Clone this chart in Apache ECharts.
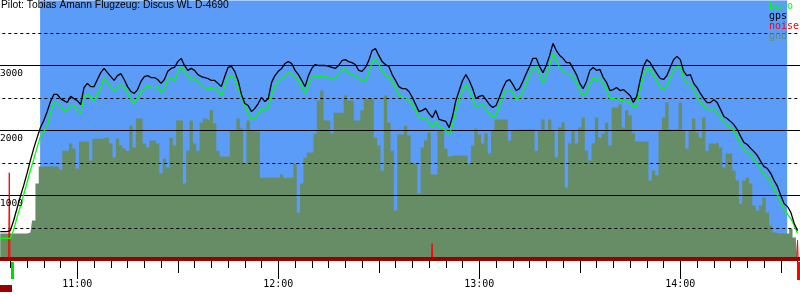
<!DOCTYPE html>
<html><head><meta charset="utf-8">
<script src="https://cdn.jsdelivr.net/npm/echarts@6/dist/echarts.min.js"></script>
<style>html,body{margin:0;padding:0;background:#fff}#c{width:800px;height:300px}</style>
</head><body><div id="c"></div>
<script>
// ---- data (time in minutes after midnight, altitude in metres) ----
const titleText = 'Pilot: Tobias Amann Flugzeug: Discus WL D-4690';
const legendNames = ['baro', 'gps', 'noise', 'gnd'];
const yLines = [500, 1000, 1500, 2000, 2500, 3000, 3500];
const flightWindow = [648.9, 871.9];
const takeoffMin = 640.2;
const landingMin = 874.9;

const minutes = [
637,638,639,640,641,642,643,644,645,646,647,648,649,650,651,652,653,654,655,656,
657,658,659,660,661,662,663,664,665,666,667,668,669,670,671,672,673,674,675,676,
677,678,679,680,681,682,683,684,685,686,687,688,689,690,691,692,693,694,695,696,
697,698,699,700,701,702,703,704,705,706,707,708,709,710,711,712,713,714,715,716,
717,718,719,720,721,722,723,724,725,726,727,728,729,730,731,732,733,734,735,736,
737,738,739,740,741,742,743,744,745,746,747,748,749,750,751,752,753,754,755,756,
757,758,759,760,761,762,763,764,765,766,767,768,769,770,771,772,773,774,775,776,
777,778,779,780,781,782,783,784,785,786,787,788,789,790,791,792,793,794,795,796,
797,798,799,800,801,802,803,804,805,806,807,808,809,810,811,812,813,814,815,816,
817,818,819,820,821,822,823,824,825,826,827,828,829,830,831,832,833,834,835,836,
837,838,839,840,841,842,843,844,845,846,847,848,849,850,851,852,853,854,855,856,
857,858,859,860,861,862,863,864,865,866,867,868,869,870,871,872,873,874,875];

const gpsAlt = [
445,445,445,460,615,800,985,1155,1340,1540,1725,1890,2045,2155,2290,2445,2555,2555,2490,2460,
2430,2525,2490,2460,2400,2660,2725,2675,2675,2785,2890,2955,2890,2830,2770,2845,2875,2785,2675,2600,
2570,2630,2755,2830,2845,2815,2815,2785,2725,2785,2910,2955,2970,3060,3110,3000,2925,2955,2925,2860,
2830,2815,2800,2770,2770,2725,2675,2830,2970,2985,2910,2770,2555,2415,2385,2290,2340,2415,2510,2445,
2490,2740,2845,2910,2955,3030,3060,3030,2925,2860,2770,2675,2845,2955,3015,3000,3000,3000,2985,2970,
2955,3000,3075,3090,3060,3045,3015,2925,2910,2970,3075,3230,3260,3155,3060,3015,2985,2860,2770,2675,
2645,2645,2600,2510,2400,2290,2310,2340,2260,2200,2310,2170,2155,2140,2045,2215,2460,2615,2770,2860,
2770,2645,2490,2525,2540,2475,2400,2355,2385,2510,2645,2755,2785,2710,2615,2645,2755,2875,2985,3110,
3110,2985,2890,3000,3155,3340,3230,3155,3110,3045,3045,2955,2860,2725,2645,2755,2925,2970,2925,2940,
2815,2740,2615,2630,2660,2615,2630,2585,2540,2430,2525,2770,2985,3090,3045,2955,2875,2800,2785,2845,
2970,3090,3140,3090,2910,2845,2860,2725,2660,2570,2490,2430,2430,2475,2430,2325,2215,2185,2140,2090,
2015,1910,1815,1785,1725,1675,1615,1525,1445,1415,1340,1230,1140,1000,875,830,740,570,460];

const baroAlt = [
340,340,340,340,475,660,830,1015,1200,1385,1555,1740,1910,1985,2075,2260,2430,2415,2385,2310,
2310,2385,2385,2310,2260,2510,2555,2525,2460,2555,2660,2800,2740,2660,2615,2645,2710,2660,2585,2475,
2415,2510,2585,2645,2690,2660,2660,2675,2585,2630,2785,2815,2755,2890,2985,2910,2845,2770,2800,2755,
2710,2660,2645,2645,2660,2615,2540,2675,2815,2845,2785,2660,2525,2385,2260,2170,2185,2260,2340,2310,
2355,2555,2690,2755,2800,2845,2890,2875,2830,2770,2675,2570,2710,2815,2845,2830,2830,2845,2815,2800,
2815,2875,2925,2955,2890,2860,2845,2815,2755,2770,2890,3045,3110,3015,2925,2845,2830,2755,2660,2540,
2510,2510,2445,2400,2310,2200,2185,2200,2110,2045,2140,2060,2030,2000,1940,2075,2310,2475,2615,2710,
2615,2490,2355,2385,2400,2325,2260,2215,2230,2385,2525,2630,2630,2585,2475,2510,2600,2725,2845,2955,
2985,2860,2740,2845,3000,3185,3075,2970,2925,2875,2875,2815,2740,2615,2540,2570,2725,2815,2770,2800,
2725,2630,2490,2490,2510,2460,2460,2445,2430,2355,2370,2645,2830,2955,2940,2845,2770,2660,2630,2690,
2815,2925,2985,2970,2800,2725,2725,2615,2540,2430,2385,2340,2290,2340,2275,2200,2125,2075,2045,2000,
1890,1785,1710,1660,1630,1555,1490,1400,1325,1275,1215,1090,1015,890,785,710,645,540,415];

const gndAlt = [
415,415,415,415,415,415,415,415,415,430,615,1185,1445,1445,1445,1445,1445,1445,1400,1690,
1690,1800,1725,1415,1830,1830,1830,1540,1875,1875,1875,1890,1890,1800,1585,1875,1770,1725,1690,2075,
1740,2185,2185,1800,1740,1845,1845,1800,1340,1570,1430,1890,1770,2155,2155,1185,1690,2155,1800,1690,
2125,2185,2155,2310,2110,1690,1600,1600,1600,2000,2000,2185,2030,1490,2155,2000,1985,1985,1275,1275,
1275,1275,1275,1275,1325,1275,1275,1275,1490,740,1185,1585,1660,1660,1955,2460,2615,2155,2155,1955,
2275,2275,2275,2540,2460,2460,2155,2155,2310,2490,2490,2490,1890,1770,1385,2540,2125,1690,770,1940,
1940,2075,1925,1490,1510,1030,1740,1845,1970,1325,1325,2000,2000,1725,1600,1615,1615,1615,1615,1615,
1490,1770,2030,1940,1800,1955,1645,2000,2170,2170,2170,2170,1845,2000,2015,2015,2015,2015,2015,2015,
1690,2000,2170,2000,2170,2000,1585,2045,2125,1125,1800,2000,1800,2045,2200,1690,1540,1800,2200,1890,
1955,2125,1770,2355,2355,2400,2045,2310,2230,1955,1830,1830,1830,1830,1230,1385,1310,2000,2200,2430,
2015,2015,2015,2430,2000,1725,2000,2185,1970,1890,2200,1690,1800,1800,1815,1740,1430,1645,1645,1385,
1230,875,1230,1275,1185,845,770,845,970,740,540,430,415,415,415,415,490,355,308];

const noiseMin = [636.9, 639.5, 639.7, 639.9, 765.7, 765.9, 766.1, 874.8, 875.0, 875.2, 875.7];
const noiseVal = [0, 0, 1350, 0, 0, 260, 0, 0, 310, 0, 0];

// ---- styling ----
const COL = { baro: '#00ff00', gps: '#000000', noise: '#ff0000', gnd: '#678d67', sky: '#5a9cf8', bar: '#990000' };
const MONO = 'DejaVu Sans Mono';

function pairs(xs, ys) { const n = Math.min(xs.length, ys.length); const out = []; for (let i = 0; i < n; i++) out.push([xs[i], ys[i]]); return out; }
function hhmm(v) { const h = Math.floor(v / 60), m = Math.round(v % 60); return String(h).padStart(2, '0') + ':' + String(m).padStart(2, '0'); }

const chart = echarts.init(document.getElementById('c'), null, { renderer: 'canvas' });

const baseX = {
  type: 'value', min: 600, max: 900, position: 'bottom', offset: -1.5, gridIndex: 0,
  axisLine: { show: false, onZero: false }, splitLine: { show: false }, axisLabel: { show: false },
  axisTick: { show: true, lineStyle: { color: '#000', width: 1 } }
};

chart.setOption({
  animation: false,
  title: { text: titleText, left: 1, top: 0, padding: 0,
    textStyle: { fontFamily: 'Liberation Sans', fontSize: 10.3, fontWeight: 'normal', color: '#000' } },
  grid: { left: -123.7, right: -81.3, top: 0.5, bottom: 39.5, containLabel: false, outerBoundsMode: 'none' },
  xAxis: [
    Object.assign({}, baseX, { interval: 5, axisTick: { length: 9, lineStyle: { color: '#000' } } }),
    Object.assign({}, baseX, { interval: 30, axisTick: { length: 14, lineStyle: { color: '#000' } } }),
    Object.assign({}, baseX, { interval: 60, axisTick: { length: 20, lineStyle: { color: '#000' } },
      axisLabel: { show: true, margin: 20, fontFamily: MONO, fontSize: 10, color: '#000', formatter: hhmm } }),
    Object.assign({}, baseX, { interval: 60, z: 10, axisTick: { show: false },
      axisLine: { show: true, onZero: false, lineStyle: { color: COL.bar, width: 4 } } })
  ],
  yAxis: {
    type: 'value', min: 0, max: 4000, interval: 500, offset: -123.7, z: 10,
    axisLine: { show: false }, axisTick: { show: false }, splitLine: { show: false },
    axisLabel: { inside: true, margin: 0, verticalAlign: 'top', padding: [3, 0, 0, 0], fontFamily: MONO, fontSize: 9.5, color: '#000',
      formatter: v => (v % 1000 === 0 && v > 0 && v < 4000) ? String(v) : '' }
  },
  series: [
    {
      name: 'gnd', type: 'line', data: pairs(minutes, gndAlt), step: 'middle', symbol: 'none', silent: true,
      lineStyle: { width: 0, color: COL.gnd }, areaStyle: { color: COL.gnd, opacity: 1 }, z: 2,
      markArea: { silent: true, z: 1, itemStyle: { color: COL.sky, opacity: 1 },
        data: [[{ xAxis: flightWindow[0] }, { xAxis: flightWindow[1] }]] },
      markLine: { silent: true, z: 3, symbol: ['none', 'none'], label: { show: false },
        emphasis: { disabled: true },
        data: yLines.map(v => ({ yAxis: v, lineStyle: { color: '#000', width: 1, opacity: 1, type: (v % 1000) ? [3, 3] : 'solid' } })) }
    },
    { name: 'noise', type: 'line', data: pairs(noiseMin, noiseVal), symbol: 'none', silent: true,
      lineStyle: { color: COL.noise, width: 1 }, z: 4 },
    { name: 'baro', type: 'line', data: pairs(minutes, baroAlt), symbol: 'none', silent: true,
      lineStyle: { color: COL.baro, width: 1.3 }, z: 5 },
    { name: 'gps', type: 'line', data: pairs(minutes, gpsAlt), symbol: 'none', silent: true,
      lineStyle: { color: COL.gps, width: 1.3 }, z: 6 }
  ]
});

// legend (coloured names, no icons) and takeoff / landing markers below the time axis
const px = t => chart.convertToPixel({ xAxisIndex: 0 }, t);
const gfx = legendNames.map((n, i) => ({
  type: 'text', left: 769, top: 1 + i * 10, z: 20,
  style: { text: n, fill: COL[n], font: '10px "' + MONO + '"' }
}));
gfx.push({ type: 'rect', z: 20, shape: { x: Math.round(px(takeoffMin)), y: 262, width: 3, height: 17 }, style: { fill: '#00dd00' } });
gfx.push({ type: 'rect', z: 20, shape: { x: Math.round(px(landingMin)), y: 262, width: 4, height: 18 }, style: { fill: COL.noise } });
gfx.push({ type: 'rect', z: 20, shape: { x: 0, y: 285, width: Math.round(px(takeoffMin + 0.3)), height: 7 }, style: { fill: COL.bar } });
chart.setOption({ graphic: gfx });
</script>
</body></html>
